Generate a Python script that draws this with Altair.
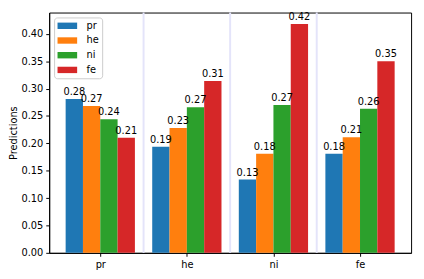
import json
import altair as alt
import pandas as pd

groups = ["pr", "he", "ni", "fe"]
series = ["pr", "he", "ni", "fe"]
values_pr = [0.281, 0.194, 0.134, 0.181]
values_he = [0.268, 0.228, 0.181, 0.211]
values_ni = [0.244, 0.266, 0.270, 0.263]
values_fe = [0.210, 0.314, 0.418, 0.350]
colors = ["#1f77b4", "#ff7f0e", "#2ca02c", "#d62728"]
separators = [0.5, 1.5, 2.5]
y_ticks = [0.00, 0.05, 0.10, 0.15, 0.20, 0.25, 0.30, 0.35, 0.40]

series_values = [values_pr, values_he, values_ni, values_fe]
rows = []
for si, s in enumerate(series):
    for gi, g in enumerate(groups):
        rows.append({"group": g, "gi": gi, "series": s, "si": si,
                     "value": series_values[si][gi]})
df = pd.DataFrame(rows)
sep_df = pd.DataFrame({"x": separators})

n = len(series)
bw = 0.8 / n
xscale = alt.Scale(domain=[-0.59, 3.59], nice=False, zero=False)
yscale = alt.Scale(domain=[0, 0.4389], nice=False)

x_axis = alt.Axis(values=list(range(len(groups))),
                  labelExpr=f"{json.dumps(groups)}[datum.value]",
                  title=None, grid=False, tickSize=3.5, labelPadding=3)
y_axis = alt.Axis(values=y_ticks, format=".2f", title="Predictions",
                  grid=False, tickSize=3.5, labelPadding=3, titlePadding=3,
                  labelOverlap=False)

base = alt.Chart(df).transform_calculate(
    xc=f"datum.gi + (datum.si - {(n - 1) / 2}) * {bw}",
).transform_calculate(
    x0=f"datum.xc - {bw / 2}", x1=f"datum.xc + {bw / 2}"
)

sep = alt.Chart(sep_df).mark_rule(color="#e4e4fa", strokeWidth=2).encode(
    x=alt.X("x:Q", scale=xscale, axis=x_axis)
)

bars = base.mark_bar(strokeWidth=0).encode(
    x=alt.X("x0:Q", scale=xscale, axis=x_axis),
    x2="x1:Q",
    y=alt.Y("value:Q", scale=yscale, axis=y_axis),
    y2=alt.datum(0),
    color=alt.Color("series:N", scale=alt.Scale(domain=series, range=colors),
                    sort=series,
                    legend=alt.Legend(title=None, orient="top-left", offset=5)),
)

labels = base.mark_text(baseline="bottom", dy=-2, fontSize=10,
                        font="DejaVu Sans", color="#000000").encode(
    x=alt.X("xc:Q", scale=xscale, axis=x_axis),
    y=alt.Y("value:Q", scale=yscale, axis=y_axis),
    text=alt.Text("value:Q", format=".2f"),
)

chart = alt.layer(sep, bars, labels).properties(
    width=369, height=245,
    autosize=alt.AutoSizeParams(type="none"),
    padding={"left": 42, "top": 2, "right": 5, "bottom": 22},
).configure_view(stroke="#000000", strokeWidth=1).configure_axis(
    labelFont="DejaVu Sans", labelFontSize=10, labelColor="#000000",
    titleFont="DejaVu Sans", titleFontSize=10, titleFontWeight="normal",
    titleColor="#000000", tickColor="#000000", domainColor="#000000",
).configure_legend(
    padding=3.5, strokeColor="#cccccc", fillColor="#ffffff", cornerRadius=3,
    symbolType="M-1,-0.65L3,-0.65L3,0.65L-1,0.65Z", symbolSize=100,
    symbolStrokeWidth=0, symbolOpacity=1, labelFont="DejaVu Sans",
    labelFontSize=10, labelColor="#000000", labelOffset=19.5, rowPadding=5,
)

chart.save("out.html", embed_options={"renderer": "svg", "actions": False})
